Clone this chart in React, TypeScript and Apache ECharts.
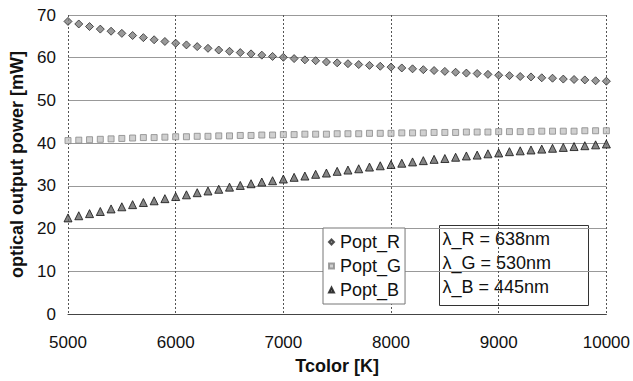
import React, { useEffect, useRef } from "react";
import * as echarts from "echarts";

const tcolor: number[] = [
  5000, 5100, 5200, 5300, 5400, 5500, 5600, 5700, 5800, 5900,
  6000, 6100, 6200, 6300, 6400, 6500, 6600, 6700, 6800, 6900,
  7000, 7100, 7200, 7300, 7400, 7500, 7600, 7700, 7800, 7900,
  8000, 8100, 8200, 8300, 8400, 8500, 8600, 8700, 8800, 8900,
  9000, 9100, 9200, 9300, 9400, 9500, 9600, 9700, 9800, 9900, 10000,
];

const poptR: number[] = [
  68.5, 67.9, 67.3, 66.7, 66.2, 65.7, 65.2, 64.7, 64.2, 63.8,
  63.4, 63.0, 62.6, 62.2, 61.8, 61.5, 61.2, 60.9, 60.6, 60.3,
  60.1, 59.8, 59.5, 59.3, 59.0, 58.8, 58.6, 58.4, 58.2, 58.0,
  57.8, 57.6, 57.4, 57.2, 57.0, 56.8, 56.6, 56.4, 56.3, 56.1,
  55.9, 55.8, 55.6, 55.5, 55.3, 55.2, 55.0, 54.9, 54.8, 54.6, 54.5,
];

const poptG: number[] = [
  40.6, 40.7, 40.8, 40.9, 41.0, 41.1, 41.2, 41.3, 41.3, 41.4,
  41.5, 41.5, 41.6, 41.6, 41.7, 41.7, 41.8, 41.8, 41.9, 41.9,
  42.0, 42.0, 42.1, 42.1, 42.1, 42.2, 42.2, 42.2, 42.3, 42.3,
  42.3, 42.4, 42.4, 42.4, 42.5, 42.5, 42.5, 42.6, 42.6, 42.6,
  42.7, 42.7, 42.7, 42.7, 42.8, 42.8, 42.8, 42.8, 42.9, 42.9, 42.9,
];

const poptB: number[] = [
  22.5, 23.0, 23.5, 24.0, 24.6, 25.1, 25.6, 26.1, 26.5, 27.0,
  27.5, 27.9, 28.4, 28.8, 29.2, 29.7, 30.1, 30.5, 30.9, 31.2,
  31.6, 32.0, 32.3, 32.7, 33.0, 33.4, 33.7, 34.0, 34.4, 34.7,
  35.0, 35.3, 35.6, 35.9, 36.2, 36.4, 36.7, 37.0, 37.2, 37.5,
  37.7, 38.0, 38.2, 38.4, 38.6, 38.8, 39.0, 39.2, 39.4, 39.6, 39.8,
];

const seriesNames: string[] = ["Popt_R", "Popt_G", "Popt_B"];
const noteLines: string[] = ["λ_R = 638nm", "λ_G = 530nm", "λ_B = 445nm"];

const FONT = "'Liberation Sans', Arial, sans-serif";

export default function App() {
  const ref = useRef<HTMLDivElement>(null);

  useEffect(() => {
    if (!ref.current) return;
    const chart = echarts.init(ref.current, undefined, { renderer: "svg" });
    const pair = (ys: number[]) => tcolor.map((x, i) => [x, ys[i]]);

    chart.setOption({
      animation: false,
      backgroundColor: "#ffffff",
      textStyle: { fontFamily: FONT },
      grid: { left: 66, right: 25, top: 15, bottom: 67, containLabel: false },
      xAxis: {
        type: "value",
        min: 5000,
        max: 10000,
        interval: 1000,
        name: "Tcolor [K]",
        nameLocation: "middle",
        nameGap: 43,
        nameTextStyle: { fontFamily: FONT, fontSize: 18, fontWeight: "bold", color: "#111" },
        axisLine: { show: true, lineStyle: { color: "#444", width: 1 } },
        axisTick: { show: false },
        axisLabel: { fontFamily: FONT, fontSize: 17, color: "#111", margin: 20, formatter: (v: number) => String(v) },
        splitLine: { show: true, lineStyle: { color: "#555", type: [2, 2], width: 1 } },
      },
      yAxis: {
        type: "value",
        min: 0,
        max: 70,
        interval: 10,
        name: "optical output power [mW]",
        nameLocation: "middle",
        nameGap: 42,
        nameTextStyle: { fontFamily: FONT, fontSize: 18, fontWeight: "bold", color: "#111" },
        axisLine: { show: false },
        axisTick: { show: false },
        axisLabel: { fontFamily: FONT, fontSize: 17, color: "#111", margin: 12 },
        splitLine: { show: true, lineStyle: { color: "#999", type: "solid", width: 1 } },
      },
      legend: {
        show: true,
        orient: "vertical",
        left: 323,
        top: 228,
        data: seriesNames,
        backgroundColor: "#ffffff",
        borderColor: "#777",
        borderWidth: 1,
        padding: [3, 4, 3, 5],
        itemWidth: 5,
        itemHeight: 5,
        itemGap: 2,
        textStyle: { fontFamily: FONT, fontSize: 18, color: "#111", lineHeight: 22, padding: [0, 0, 0, 1] },
      },
      series: [
        {
          name: seriesNames[0],
          type: "scatter",
          data: pair(poptR),
          symbol: "diamond",
          symbolSize: 8,
          itemStyle: { color: "#808080", borderColor: "#2a2a2a", borderWidth: 1 },
        },
        {
          name: seriesNames[1],
          type: "scatter",
          data: pair(poptG),
          symbol: "rect",
          symbolSize: 6,
          itemStyle: { color: "#c4c4c4", borderColor: "#888", borderWidth: 1 },
        },
        {
          name: seriesNames[2],
          type: "scatter",
          data: pair(poptB),
          symbol: "triangle",
          symbolSize: 8,
          itemStyle: { color: "#666", borderColor: "#111", borderWidth: 1 },
        },
      ],
      graphic: [
        {
          type: "group",
          left: 439,
          top: 225,
          children: [
            {
              type: "rect",
              shape: { x: 0, y: 0, width: 149, height: 80 },
              style: { fill: "#ffffff", stroke: "#333", lineWidth: 1 },
            },
            ...noteLines.map((t, i) => ({
              type: "text",
              x: 3,
              y: 4 + i * 24,
              style: { text: t, font: `18px ${FONT}`, fill: "#111" },
            })),
          ],
        },
      ],
    });

    return () => chart.dispose();
  }, []);

  return <div ref={ref} style={{ position: "fixed", left: 0, top: 0, width: 633, height: 381 }} />;
}
